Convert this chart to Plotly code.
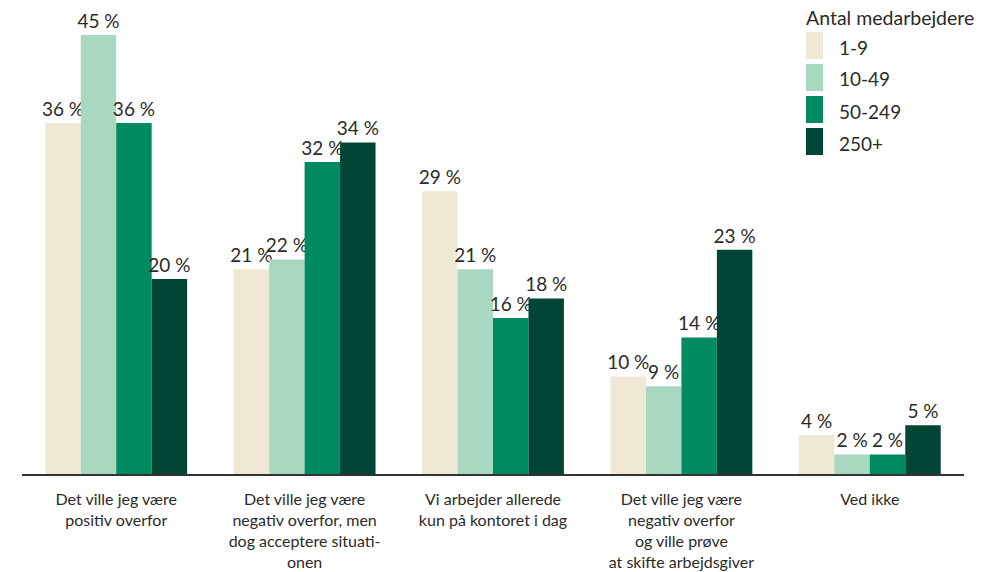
import plotly.graph_objects as go

categories = [
    "Det ville jeg være<br>positiv overfor",
    "Det ville jeg være<br>negativ overfor, men<br>dog acceptere situati-<br>onen",
    "Vi arbejder allerede<br>kun på kontoret i dag",
    "Det ville jeg være<br>negativ overfor<br>og ville prøve<br>at skifte arbejdsgiver",
    "Ved ikke",
]
series_names = ["1-9", "10-49", "50-249", "250+"]
values_1_9 = [36, 21, 29, 10, 4]
values_10_49 = [45, 22, 21, 9, 2]
values_50_249 = [36, 32, 16, 14, 2]
values_250 = [20, 34, 18, 23, 5]
legend_title = "Antal medarbejdere"

colors = ["#EEE8D5", "#A8D8C0", "#008A62", "#004535"]
all_values = [values_1_9, values_10_49, values_50_249, values_250]

FONT = "Lato, 'Noto Sans', sans-serif"
TXT = "#2b2b2b"

fig = go.Figure()
for name, vals, col in zip(series_names, all_values, colors):
    fig.add_trace(go.Bar(
        x=categories, y=vals, name=name, marker_color=col,
        marker_line_width=0,
        text=[f"{v} %" for v in vals], textposition="outside",
        textfont=dict(size=19, color=TXT, family=FONT),
        constraintext="none", cliponaxis=False, showlegend=False,
    ))

fig.update_layout(
    width=1000, height=572,
    margin=dict(l=22, r=36, t=0, b=98),
    barmode="group", bargap=0.247, bargroupgap=0,
    plot_bgcolor="white", paper_bgcolor="white",
    font=dict(family=FONT, color=TXT),
    xaxis=dict(showline=True, linecolor="#333333", linewidth=2,
               ticks="outside", ticklen=10, tickcolor="rgba(0,0,0,0)",
               tickfont=dict(size=16, color=TXT, family=FONT),
               showgrid=False, automargin=False),
    yaxis=dict(range=[0, 48.6], visible=False, showgrid=False, automargin=False),
)

# custom legend
fig.add_annotation(xref="paper", yref="paper", x=(804 - 22) / 942, y=1 - 18 / 474,
                   text=legend_title, showarrow=False, xanchor="left", yanchor="middle",
                   font=dict(size=19.5, color=TXT, family=FONT))
for i, (name, col) in enumerate(zip(series_names, colors)):
    top = 32 + i * 32
    fig.add_shape(type="rect", xref="paper", yref="paper",
                  x0=(806 - 22) / 942, x1=(823 - 22) / 942,
                  y0=1 - (top + 27) / 474, y1=1 - top / 474,
                  fillcolor=col, line_width=0)
    fig.add_annotation(xref="paper", yref="paper", x=(837 - 22) / 942,
                       y=1 - (top + 15) / 474, text=name, showarrow=False,
                       xanchor="left", yanchor="middle",
                       font=dict(size=19, color=TXT, family=FONT))

fig.write_html("out.html", config={"displayModeBar": False},
               post_script="document.body.style.margin='0';document.body.style.padding='0';")
